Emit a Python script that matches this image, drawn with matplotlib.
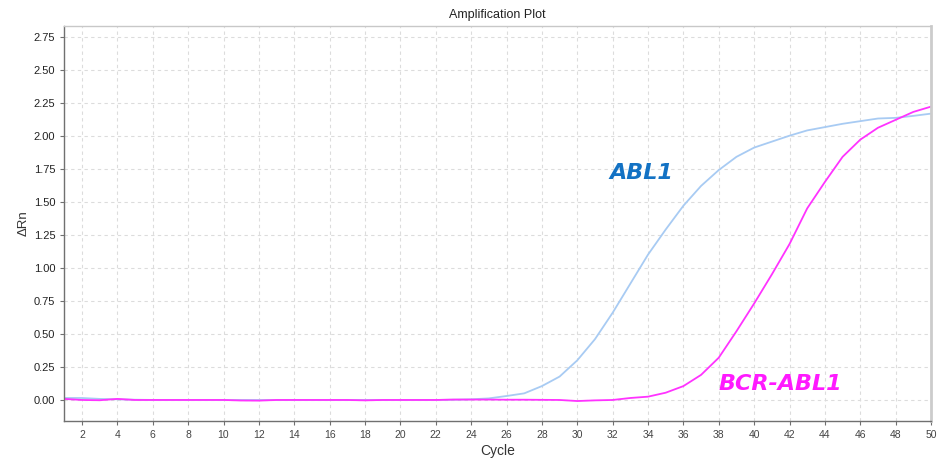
import matplotlib
matplotlib.use("Agg")
import matplotlib.pyplot as plt
import numpy as np

plt.rcParams['font.family'] = ['Liberation Sans', 'DejaVu Sans']

cycles = list(range(1, 51))
abl1 = [0.015, 0.015, 0.008, 0.005, 0.002, 0.0, 0.0, 0.0, 0.0, 0.0,
        0.0, 0.0, 0.0, 0.0, 0.0, 0.0, 0.0, 0.0, 0.0, 0.0,
        0.0, 0.0, 0.002, 0.005, 0.012, 0.03, 0.05, 0.105, 0.177, 0.30,
        0.46, 0.66, 0.88, 1.10, 1.29, 1.47, 1.62, 1.74, 1.84, 1.91,
        1.955, 2.0, 2.04, 2.065, 2.09, 2.11, 2.13, 2.135, 2.15, 2.167]
bcr_abl1 = [0.008, 0.0, -0.002, 0.008, 0.0, 0.0, 0.0, 0.0, 0.0, 0.0,
            -0.004, -0.005, 0.0, 0.0, 0.0, 0.0, 0.0, -0.003, 0.0, 0.0,
            0.0, 0.0, 0.003, 0.003, 0.003, 0.002, 0.002, 0.001, 0.0, -0.008,
            -0.003, 0.0, 0.015, 0.025, 0.055, 0.105, 0.19, 0.32, 0.52, 0.73,
            0.95, 1.18, 1.45, 1.65, 1.84, 1.97, 2.06, 2.12, 2.18, 2.22]
xticks = list(range(2, 51, 2))
yticks = [0.0, 0.25, 0.5, 0.75, 1.0, 1.25, 1.5, 1.75, 2.0, 2.25, 2.5, 2.75]

fig = plt.figure(figsize=(9.43, 4.58), dpi=100)
ax = fig.add_axes([0.0682, 0.0814, 0.9191, 0.8618])

ax.plot(cycles, abl1, color="#a8cbf3", lw=1.3)
ax.plot(cycles, bcr_abl1, color="#ff33ff", lw=1.3)

ax.set_xlim(1, 50)
ax.set_ylim(-0.157, 2.83)
ax.set_xticks(xticks)
ax.set_yticks(yticks)
ax.set_yticklabels([f"{v:.2f}" for v in yticks])
ax.grid(True, color="#dcdcdc", linestyle=(0, (3, 3)), lw=0.8)
ax.set_axisbelow(True)
ax.tick_params(axis="both", length=3, width=0.8)
ax.tick_params(axis="x", colors="#707070", labelcolor="#444444", labelsize=7.5)
ax.tick_params(axis="y", colors="#707070", labelcolor="#222222", labelsize=8)

for s in ["left", "bottom"]:
    ax.spines[s].set_color("#707070")
    ax.spines[s].set_linewidth(1.0)
ax.spines["top"].set_color("#c8c8c8")
ax.spines["top"].set_linewidth(1.0)
ax.spines["right"].set_color("#cccccc")
ax.spines["right"].set_linewidth(2.0)

ax.set_title("Amplification Plot", fontsize=9, color="#222222", pad=6)
ax.set_xlabel("Cycle", fontsize=10, color="#333333", labelpad=3)
ax.set_ylabel("ΔRn", fontsize=9.5, color="#333333", labelpad=3)

ax.text(31.8, 1.72, "ABL1", color="#1372c4", fontsize=16, fontstyle="oblique",
        fontweight="bold", fontfamily="DejaVu Sans", va="center", ha="left")
ax.text(38.0, 0.12, "BCR-ABL1", color="#ff1aff", fontsize=16, fontstyle="oblique",
        fontweight="bold", fontfamily="DejaVu Sans", va="center", ha="left")

fig.savefig("out.png", dpi=100)
